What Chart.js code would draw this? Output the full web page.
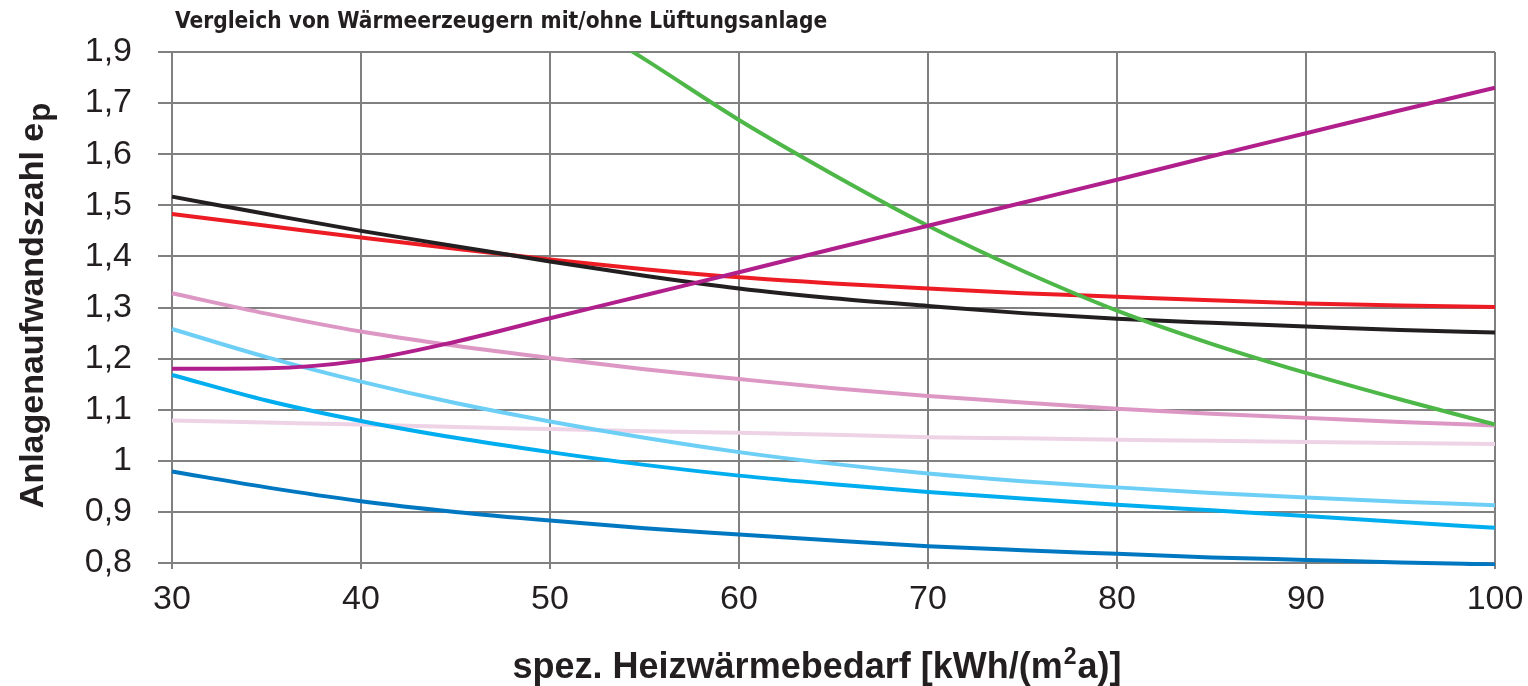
<!DOCTYPE html>
<html>
<head>
<meta charset="utf-8">
<script src="https://cdn.jsdelivr.net/npm/chart.js@4"></script>
<style>
  html, body { margin: 0; padding: 0; background: #fff; }
</style>
</head>
<body>
<canvas id="chart" width="1528" height="686"></canvas>
<script>
// spez. Heizwärmebedarf in kWh/(m²a)
const heatDemand = [30, 35, 40, 45, 50, 55, 60, 65, 70, 75, 80, 85, 90, 95, 100];

// Anlagenaufwandszahl e_p
const magenta   = [1.180, 1.181, 1.196, 1.233, 1.279, 1.324, 1.369, 1.415, 1.460, 1.505, 1.550, 1.596, 1.641, 1.686, 1.730];
const green     = [null, null, null, null, 1.900, 1.786, 1.667, 1.560, 1.460, 1.372, 1.294, 1.229, 1.172, 1.120, 1.071];
const black     = [1.517, 1.483, 1.450, 1.420, 1.390, 1.362, 1.337, 1.318, 1.303, 1.289, 1.278, 1.270, 1.263, 1.256, 1.251];
const red       = [1.483, 1.460, 1.437, 1.415, 1.394, 1.375, 1.359, 1.347, 1.337, 1.328, 1.321, 1.314, 1.308, 1.304, 1.301];
const pink      = [1.328, 1.288, 1.253, 1.225, 1.201, 1.179, 1.160, 1.142, 1.127, 1.114, 1.102, 1.092, 1.084, 1.076, 1.069];
const lightBlue = [1.258, 1.203, 1.155, 1.113, 1.077, 1.045, 1.017, 0.994, 0.975, 0.960, 0.948, 0.937, 0.928, 0.920, 0.913];
const blue      = [1.168, 1.118, 1.078, 1.045, 1.017, 0.992, 0.971, 0.954, 0.939, 0.926, 0.914, 0.903, 0.892, 0.880, 0.869];
const lightPink = [1.079, 1.075, 1.071, 1.066, 1.062, 1.058, 1.055, 1.051, 1.046, 1.044, 1.041, 1.039, 1.037, 1.035, 1.033];
const darkBlue  = [0.979, 0.948, 0.921, 0.900, 0.883, 0.868, 0.856, 0.844, 0.833, 0.825, 0.818, 0.811, 0.806, 0.801, 0.797];

// tick labels as printed (top one reads 1,9 in the original)
const yTickLabels = ['0,8', '0,9', '1', '1,1', '1,2', '1,3', '1,4', '1,5', '1,6', '1,7', '1,9'];

const chartTitle = 'Vergleich von Wärmeerzeugern mit/ohne Lüftungsanlage';
const yTitle = 'Anlagenaufwandszahl e';
const ySub = 'p';
const xTitleParts = ['spez. Heizwärmebedarf [kWh/(m', '2', 'a)]'];

const inkColor = '#231f20';
const gridColor = '#808080';
const font = '"Liberation Sans", Arial, sans-serif';

function series(values, color) {
  return {
    data: heatDemand.map((x, i) => ({ x: x, y: values[i] })),
    borderColor: color,
    borderWidth: 4,
    pointRadius: 0,
    fill: false,
    clip: { left: 3, top: 0, right: 3, bottom: 3 },
    cubicInterpolationMode: 'monotone'
  };
}

// titles drawn by hand so the subscript / superscript can be placed
const textPlugin = {
  id: 'textPlugin',
  afterDraw(chart) {
    const ctx = chart.ctx;
    ctx.save();
    ctx.fillStyle = inkColor;
    ctx.textBaseline = 'alphabetic';

    // chart title
    ctx.font = 'bold 22.5px "Liberation Sans Narrow", "DejaVu Sans Condensed", ' + font;
    ctx.fillText(chartTitle, 175, 28);

    // y title, rotated
    ctx.save();
    ctx.translate(43, 306);
    ctx.rotate(-Math.PI / 2);
    ctx.font = 'bold 34px ' + font;
    const w1 = ctx.measureText(yTitle).width;
    ctx.font = 'bold 31px ' + font;
    const w2 = ctx.measureText(ySub).width;
    const start = -(w1 + w2) / 2;
    ctx.font = 'bold 34px ' + font;
    ctx.fillText(yTitle, start, 0);
    ctx.font = 'bold 31px ' + font;
    ctx.fillText(ySub, start + w1 + 1, 7);
    ctx.restore();

    // x title with superscript 2
    ctx.font = 'bold 36px ' + font;
    const a = ctx.measureText(xTitleParts[0]).width;
    const c = ctx.measureText(xTitleParts[2]).width;
    ctx.font = 'bold 23px ' + font;
    const b = ctx.measureText(xTitleParts[1]).width;
    let x = 816 - (a + b + c) / 2;
    ctx.font = 'bold 36px ' + font;
    ctx.fillText(xTitleParts[0], x, 678);
    ctx.font = 'bold 23px ' + font;
    ctx.fillText(xTitleParts[1], x + a + 1, 664);
    ctx.font = 'bold 36px ' + font;
    ctx.fillText(xTitleParts[2], x + a + b + 2, 678);
    ctx.restore();
  }
};

new Chart(document.getElementById('chart'), {
  type: 'line',
  data: {
    datasets: [
      series(magenta, '#b01f8c'),
      series(green, '#4db748'),
      series(black, '#231f20'),
      series(red, '#ed1c24'),
      series(pink, '#dd97c4'),
      series(lightBlue, '#6dcff6'),
      series(blue, '#00aeef'),
      series(lightPink, '#eed3e7'),
      series(darkBlue, '#0078c1')
    ]
  },
  options: {
    responsive: false,
    animation: false,
    layout: { padding: { left: 0, right: 33, top: 52, bottom: 0 } },
    plugins: {
      legend: { display: false },
      tooltip: { enabled: false }
    },
    scales: {
      x: {
        type: 'linear',
        min: 30,
        max: 100,
        afterFit: (scale) => {
          scale.height = 123;
          scale.paddingLeft = 0;
          scale.paddingRight = 0;
        },
        ticks: {
          stepSize: 10,
          color: inkColor,
          padding: 10,
          font: { family: font, size: 34 }
        },
        grid: { color: gridColor, lineWidth: 2, tickLength: 6 },
        border: { color: gridColor, width: 2 }
      },
      y: {
        min: 0.8,
        max: 1.8,
        afterFit: (scale) => { scale.width = 172; },
        ticks: {
          stepSize: 0.1,
          color: inkColor,
          padding: 26,
          font: { family: font, size: 34 },
          callback: (value, index) => yTickLabels[index]
        },
        grid: { color: gridColor, lineWidth: 2, tickLength: 14 },
        border: { color: gridColor, width: 2 }
      }
    }
  },
  plugins: [textPlugin]
});
</script>
</body>
</html>
